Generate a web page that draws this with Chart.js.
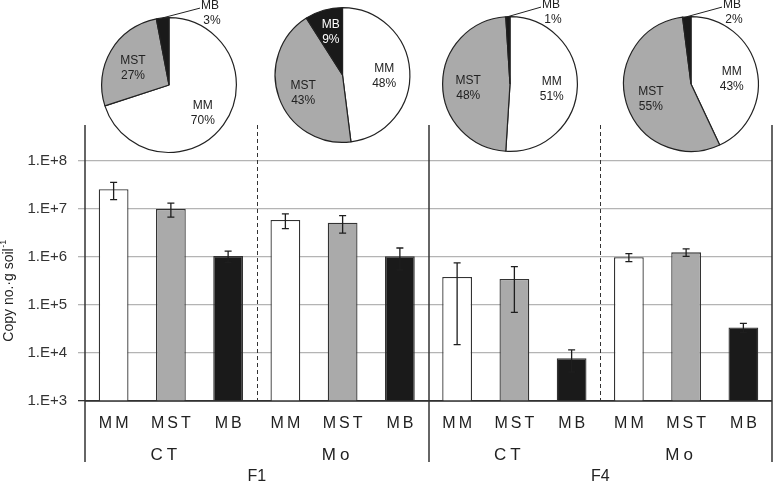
<!DOCTYPE html>
<html>
<head>
<meta charset="utf-8">
<script src="https://cdn.jsdelivr.net/npm/chart.js@4.4.1/dist/chart.umd.min.js"></script>
<style>
  html, body { margin: 0; padding: 0; background: #fff; }
  #wrap { position: relative; width: 777px; height: 485px; }
  #wrap canvas { position: absolute; left: 0; top: 0; }
</style>
</head>
<body>
<div id="wrap">
  <canvas id="barChart" width="777" height="485"></canvas>
  <canvas id="pie0" width="777" height="485"></canvas>
  <canvas id="pie1" width="777" height="485"></canvas>
  <canvas id="pie2" width="777" height="485"></canvas>
  <canvas id="pie3" width="777" height="485"></canvas>
</div>
<script>
// data
const categories = ['MM', 'MST', 'MB', 'MM', 'MST', 'MB', 'MM', 'MST', 'MB', 'MM', 'MST', 'MB'];
const treatments = ['CT', 'Mo', 'CT', 'Mo'];
const fractions = ['F1', 'F4'];
const copyNumbers = [2.57e7, 1.0e7, 1.05e6, 5.9e6, 5.2e6, 1.04e6, 3.85e5, 3.5e5, 7.8e3, 9.9e5, 1.25e6, 3.4e4];
const copyErrors = [1.0e7, 3.2e6, 2.8e5, 2.0e6, 2.05e6, 5.0e5, 3.7e5, 2.8e5, 3.8e3, 1.9e5, 2.2e5, 7.5e3];
const yTickValues = [1e3, 1e4, 1e5, 1e6, 1e7, 1e8];
const yTickLabels = ['1.E+3', '1.E+4', '1.E+5', '1.E+6', '1.E+7', '1.E+8'];
const pieLabels = ['MM', 'MST', 'MB'];
const pieShares = [[70, 27, 3], [48, 43, 9], [51, 48, 1], [43, 55, 2]];

const FONT = '"Liberation Sans", Arial, sans-serif';
const fillColors = ['#ffffff', '#aaaaaa', '#1a1a1a'];
const pieCenters = [{x: 169, y: 85}, {x: 342.5, y: 75}, {x: 510, y: 84}, {x: 691, y: 84}];
const PIE_R = 68;
const W = 777, H = 485;

Chart.defaults.font.family = FONT;
Chart.defaults.color = '#333';

function drawSpaced(ctx, text, x, y, spacing) {
    // canvas letterSpacing adds a trailing gap, shift back by half of it
    ctx.letterSpacing = spacing + 'px';
    ctx.fillText(text, x + spacing / 2, y);
    ctx.letterSpacing = '0px';
}

var decorations = {
    id: 'decorations',
    afterDatasetsDraw: function (chart) {
        var ctx = chart.ctx;
        var xs = chart.scales.x, ys = chart.scales.y, area = chart.chartArea;
        var step = area.width / categories.length;
        ctx.save();

        // error bars
        ctx.strokeStyle = '#1e1e1e';
        ctx.lineWidth = 1.3;
        for (var i = 0; i < copyNumbers.length; i++) {
            var px = xs.getPixelForValue(i);
            var top = ys.getPixelForValue(copyNumbers[i] + copyErrors[i]);
            var bot = ys.getPixelForValue(Math.max(copyNumbers[i] - copyErrors[i], ys.min));
            ctx.beginPath();
            ctx.moveTo(px, top); ctx.lineTo(px, bot);
            ctx.moveTo(px - 3.5, top); ctx.lineTo(px + 3.5, top);
            ctx.moveTo(px - 3.5, bot); ctx.lineTo(px + 3.5, bot);
            ctx.stroke();
        }

        // group separators
        ctx.strokeStyle = '#333';
        ctx.lineWidth = 1.5;
        [0, 6, 12].forEach(function (k) {
            var lx = Math.round(area.left + k * step);
            ctx.beginPath();
            ctx.moveTo(lx, area.top); ctx.lineTo(lx, area.bottom + 61);
            ctx.stroke();
        });
        ctx.lineWidth = 1;
        ctx.setLineDash([4, 3]);
        [3, 9].forEach(function (k) {
            var lx = Math.round(area.left + k * step) + 0.5;
            ctx.beginPath();
            ctx.moveTo(lx, area.top); ctx.lineTo(lx, area.bottom);
            ctx.stroke();
        });
        ctx.setLineDash([]);

        // x axis line
        ctx.lineWidth = 1.5;
        ctx.beginPath();
        ctx.moveTo(area.left, area.bottom); ctx.lineTo(area.right, area.bottom);
        ctx.stroke();

        // category / treatment / fraction labels
        ctx.fillStyle = '#222';
        ctx.textAlign = 'center';
        ctx.textBaseline = 'middle';
        ctx.font = '16px ' + FONT;
        categories.forEach(function (c, i) {
            drawSpaced(ctx, c, xs.getPixelForValue(i), area.bottom + 23, 3);
        });
        ctx.font = '17px ' + FONT;
        treatments.forEach(function (t, g) {
            var cx = area.left + (g * 3 + 1.5) * step;
            drawSpaced(ctx, t, cx - 7, area.bottom + 54, 4);
        });
        ctx.font = '16px ' + FONT;
        fractions.forEach(function (f, g) {
            var cx = area.left + (g * 6 + 3) * step;
            ctx.fillText(f, cx, area.bottom + 76);
        });

        // y title with superscript
        ctx.translate(9, 291);
        ctx.rotate(-Math.PI / 2);
        ctx.textAlign = 'left';
        ctx.font = '14px ' + FONT;
        var main = 'Copy no.·g soil';
        var w1 = ctx.measureText(main).width;
        ctx.font = '9px ' + FONT;
        var w2 = ctx.measureText('-1').width;
        var sx = -(w1 + w2) / 2;
        ctx.font = '14px ' + FONT;
        ctx.fillText(main, sx, 0);
        ctx.font = '9px ' + FONT;
        ctx.fillText('-1', sx + w1 + 0.5, -5);
        ctx.restore();
    }
};

new Chart(document.getElementById('barChart'), {
    type: 'bar',
    data: {
        labels: categories,
        datasets: [{
            data: copyNumbers,
            backgroundColor: categories.map(function (c) { return fillColors[pieLabels.indexOf(c)]; }),
            borderColor: '#333',
            borderWidth: 1.3,
            barPercentage: 0.52,
            categoryPercentage: 1
        }]
    },
    options: {
        responsive: false,
        animation: false,
        devicePixelRatio: 1,
        layout: { padding: { top: 125, bottom: 84, left: 0, right: 5 } },
        plugins: { legend: { display: false }, tooltip: { enabled: false } },
        scales: {
            x: { display: false },
            y: {
                type: 'logarithmic',
                min: 1e3,
                max: Math.pow(10, 8.75),
                afterBuildTicks: function (scale) {
                    scale.ticks = yTickValues.map(function (v) { return { value: v }; });
                },
                afterFit: function (scale) { scale.width = 85; },
                ticks: {
                    autoSkip: false,
                    padding: 11,
                    color: '#333',
                    font: { size: 15 },
                    callback: function (v) {
                        return yTickLabels[Math.round(Math.log10(v)) - 3];
                    }
                },
                grid: {
                    color: function (c) { return c.tick && c.tick.value === 1e3 ? '#333' : '#b4b4b4'; },
                    lineWidth: 1.3,
                    tickLength: 7
                },
                border: { display: false }
            }
        }
    },
    plugins: [decorations]
});

var pieLabelPlugin = {
    id: 'pieLabels',
    afterDatasetsDraw: function (chart) {
        var ctx = chart.ctx;
        var meta = chart.getDatasetMeta(0);
        var shares = chart.data.datasets[0].data;
        ctx.save();
        ctx.font = '12px ' + FONT;
        ctx.textAlign = 'center';
        ctx.textBaseline = 'middle';
        meta.data.forEach(function (arc, i) {
            var p = arc.getProps(['x', 'y', 'startAngle', 'endAngle', 'outerRadius'], true);
            var mid = (p.startAngle + p.endAngle) / 2;
            var name = chart.data.labels[i];
            var pct = shares[i] + '%';
            if (shares[i] >= 5) {
                var lx = p.x + Math.cos(mid) * p.outerRadius * 0.62;
                var ly = p.y + Math.sin(mid) * p.outerRadius * 0.62 + (i === 2 ? -3 : 4);
                ctx.fillStyle = i === 2 ? '#fff' : '#222';
                ctx.fillText(name, lx, ly - 7.5);
                ctx.fillText(pct, lx, ly + 7.5);
            } else {
                var ex = p.x + Math.cos(mid) * p.outerRadius;
                var ey = p.y + Math.sin(mid) * p.outerRadius;
                var topY = p.y - p.outerRadius;
                ctx.strokeStyle = '#222';
                ctx.lineWidth = 1;
                ctx.beginPath();
                ctx.moveTo(ex, ey);
                ctx.lineTo(p.x + 31, topY - 9.5);
                ctx.stroke();
                ctx.fillStyle = '#222';
                ctx.fillText(name, p.x + 41, topY - 12);
                ctx.fillText(pct, p.x + 43, topY + 3);
            }
        });
        ctx.restore();
    }
};

pieShares.forEach(function (shares, k) {
    var c = pieCenters[k];
    new Chart(document.getElementById('pie' + k), {
        type: 'pie',
        data: {
            labels: pieLabels,
            datasets: [{
                data: shares,
                backgroundColor: fillColors,
                borderColor: '#222',
                borderWidth: 1.2
            }]
        },
        options: {
            responsive: false,
            animation: false,
            devicePixelRatio: 1,
            layout: {
                padding: { left: c.x - PIE_R, right: W - c.x - PIE_R, top: c.y - PIE_R, bottom: H - c.y - PIE_R }
            },
            plugins: { legend: { display: false }, tooltip: { enabled: false } }
        },
        plugins: [pieLabelPlugin]
    });
});
</script>
</body>
</html>
